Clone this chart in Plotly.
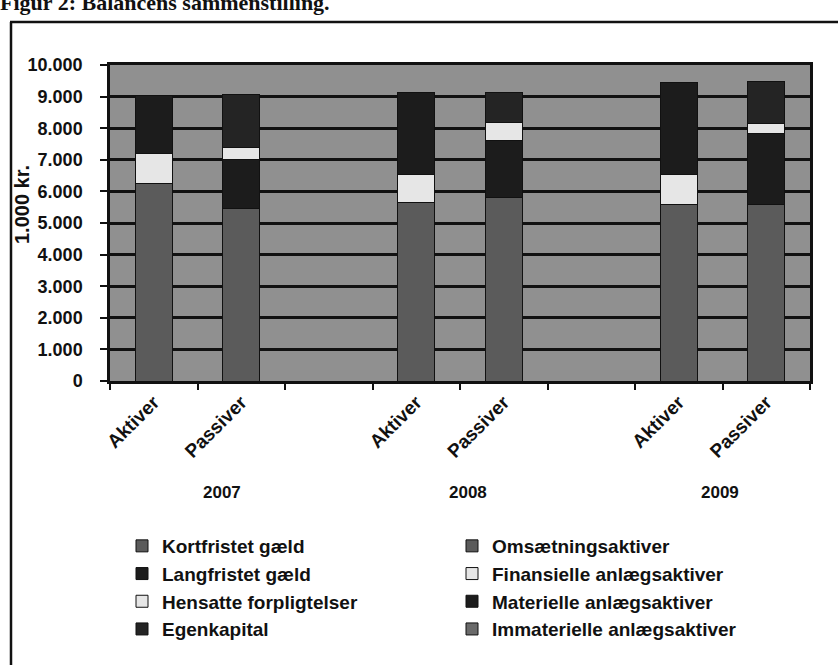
import plotly.graph_objects as go

# ---- data (1.000 kr.) ----
categories = ["Aktiver", "Passiver", "", "Aktiver", "Passiver", "", "Aktiver", "Passiver"]
cat_keys = ["A2007", "P2007", "gap1", "A2008", "P2008", "gap2", "A2009", "P2009"]
years = ["2007", "2008", "2009"]
aktiver_keys = ["A2007", "A2008", "A2009"]
passiver_keys = ["P2007", "P2008", "P2009"]

# Aktiver (bottom -> top)
omsaetningsaktiver = [6250, 5650, 5600]
finansielle_anlaeg = [950, 900, 950]
materielle_anlaeg = [1850, 2580, 2900]
immaterielle_anlaeg = [0, 0, 0]

# Passiver (bottom -> top)
kortfristet_gaeld = [5450, 5800, 5600]
langfristet_gaeld = [1550, 1800, 2230]
hensatte_forpligtelser = [400, 580, 320]
egenkapital = [1660, 960, 1330]

y_tick_values = list(range(0, 10001, 1000))

# ---- styles ----
W, H = 838, 665
ML, MR, MT, MB = 110, 28, 65, 284
PW, PH = W - ML - MR, H - MT - MB

BG = "#909090"
TEXTURED = "#5b5b5b"
BLACK = "#1c1c1c"
DARK = "#242424"
LIGHT = "#e6e6e6"

BASE = dict(family="Liberation Sans, Arial, sans-serif", color="#111111", weight="bold")
FONT = dict(BASE, size=18)
LEG_FONT = dict(BASE, size=19)
XTICK_FONT = dict(BASE, size=19)
YEAR_FONT = dict(BASE, size=17)
YTITLE_FONT = dict(BASE, size=20)


def px_x(p):
    return (p - ML) / PW


def px_y(p):
    return (H - MB - p) / PH


fig = go.Figure()

passiver_series = [
    ("Kortfristet gæld", kortfristet_gaeld, TEXTURED),
    ("Langfristet gæld", langfristet_gaeld, BLACK),
    ("Hensatte forpligtelser", hensatte_forpligtelser, LIGHT),
    ("Egenkapital", egenkapital, DARK),
]
aktiver_series = [
    ("Omsætningsaktiver", omsaetningsaktiver, TEXTURED),
    ("Finansielle anlægsaktiver", finansielle_anlaeg, LIGHT),
    ("Materielle anlægsaktiver", materielle_anlaeg, BLACK),
    ("Immaterielle anlægsaktiver", immaterielle_anlaeg, "#6a6a6a"),
]

for name, vals, col in passiver_series:
    fig.add_trace(go.Bar(
        x=passiver_keys, y=vals, name=name, legend="legend", legendgroup=name,
        marker=dict(color=col, line=dict(color="#111111", width=1)),
    ))
for name, vals, col in aktiver_series:
    fig.add_trace(go.Bar(
        x=aktiver_keys, y=vals, name=name, legend="legend2", legendgroup=name,
        marker=dict(color=col, line=dict(color="#111111", width=1)),
    ))

annotations = []
year_px = [222, 468, 720]
for yr, xp in zip(years, year_px):
    annotations.append(dict(
        text=yr, xref="paper", yref="paper", x=px_x(xp), y=px_y(492),
        xanchor="center", yanchor="middle", showarrow=False, font=YEAR_FONT,
    ))
# y-axis title
annotations.append(dict(
    text="1.000 kr.", xref="paper", yref="paper", x=px_x(22), y=px_y(205),
    xanchor="center", yanchor="middle", textangle=-90, showarrow=False, font=YTITLE_FONT,
))
# figure caption (cut off at the top, as in the scan)
annotations.append(dict(
    text="Figur 2: Balancens sammenstilling.", xref="paper", yref="paper",
    x=px_x(-2), y=px_y(2), xanchor="left", yanchor="middle", showarrow=False,
    font=dict(family="Liberation Serif, Times New Roman, serif", size=22, color="#111111", weight="bold"),
))

shapes = [
    # outer frame: top and left edges
    dict(type="line", xref="paper", yref="paper", x0=px_x(10), x1=px_x(840), y0=px_y(22), y1=px_y(22),
         line=dict(color="#111111", width=2.5)),
    dict(type="line", xref="paper", yref="paper", x0=px_x(11), x1=px_x(11), y0=px_y(22), y1=px_y(667),
         line=dict(color="#111111", width=2.5)),
]

fig.update_layout(
    width=W, height=H,
    margin=dict(l=ML, r=MR, t=MT, b=MB),
    paper_bgcolor="white",
    plot_bgcolor=BG,
    barmode="stack",
    bargap=0.58,
    separators=",.",
    font=FONT,
    showlegend=True,
    legend=dict(
        x=px_x(122), y=px_y(527), xanchor="left", yanchor="top",
        orientation="v", traceorder="normal", tracegroupgap=5,
        font=LEG_FONT, bgcolor="rgba(0,0,0,0)", itemclick=False,
    ),
    legend2=dict(
        x=px_x(452), y=px_y(527), xanchor="left", yanchor="top",
        orientation="v", traceorder="normal", tracegroupgap=5,
        font=LEG_FONT, bgcolor="rgba(0,0,0,0)", itemclick=False,
    ),
    annotations=annotations,
    shapes=shapes,
    xaxis=dict(
        type="category", categoryorder="array", categoryarray=cat_keys,
        tickmode="array", tickvals=cat_keys, ticktext=categories,
        range=[-0.5, len(cat_keys) - 0.5],
        tickson="boundaries", ticks="outside", ticklen=6, tickwidth=1.5, tickcolor="#111111",
        tickangle=-45, tickfont=XTICK_FONT,
        showgrid=False, showline=True, linecolor="#111111", linewidth=2.5, mirror=True,
        zeroline=False,
    ),
    yaxis=dict(
        range=[0, 10000], tickmode="array", tickvals=y_tick_values,
        tickformat=",d", ticks="outside", ticklen=7, tickwidth=1.5, tickcolor="#111111",
        ticklabelstandoff=14, tickfont=FONT,
        showgrid=True, gridcolor="#111111", gridwidth=3,
        showline=True, linecolor="#111111", linewidth=2.5, mirror=True,
        zeroline=False,
    ),
)

fig.write_html(
    "out.html",
    config={"displayModeBar": False},
    post_script="document.body.style.margin='0';",
)
